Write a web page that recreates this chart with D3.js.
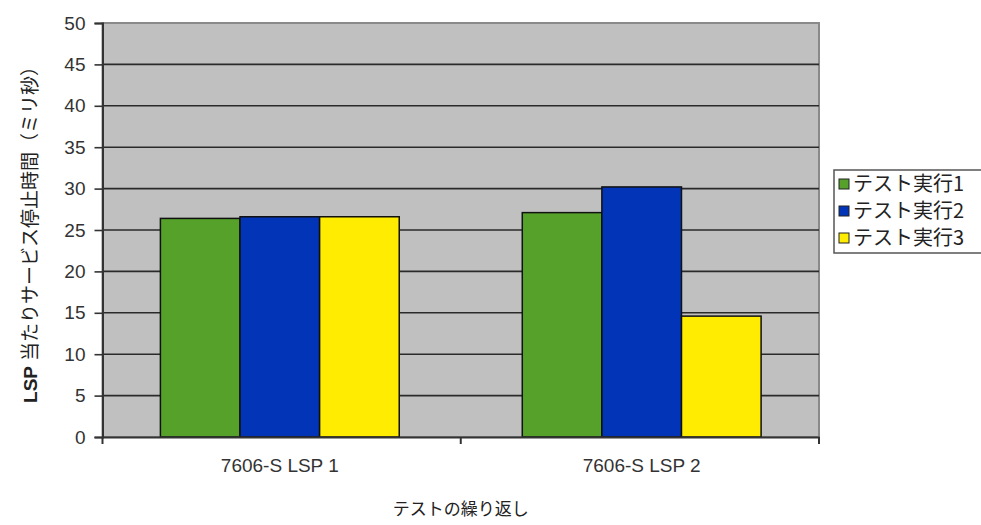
<!DOCTYPE html>
<html><head><meta charset="utf-8">
<script src="https://cdn.jsdelivr.net/npm/d3@7"></script>
<style>body{margin:0;background:#fff;}svg{display:block;}</style>
</head><body>
<svg id="c" width="981" height="525"></svg>
<script>
const categories = ["7606-S LSP 1", "7606-S LSP 2"];
const seriesNames = ["テスト実行1", "テスト実行2", "テスト実行3"];
const run1 = [26.4, 27.1];
const run2 = [26.6, 30.2];
const run3 = [26.6, 14.6];
const yTicks = [0, 5, 10, 15, 20, 25, 30, 35, 40, 45, 50];
const colors = ["#55a12a", "#0234b8", "#ffec00"];
const series = [run1, run2, run3];

const svg = d3.select("#c");
const m = {l: 102.5, r: 819, t: 23, b: 437};
const x0 = d3.scaleBand().domain(categories).range([m.l, m.r]).paddingInner(0.34).paddingOuter(0.16);
const x1 = d3.scaleBand().domain(seriesNames).range([0, x0.bandwidth()]);
const y = d3.scaleLinear().domain([0, 50]).range([m.b, m.t]);
const font = "Arial, 'Liberation Sans', sans-serif";
const jfont = "'Noto Sans CJK JP', sans-serif";

svg.append("rect").attr("x", m.l).attr("y", m.t).attr("width", m.r - m.l).attr("height", m.b - m.t)
  .attr("fill", "#c0c0c0").attr("stroke", "#8a8a8a").attr("stroke-width", 2);

svg.append("g").selectAll("line").data(yTicks.filter(d => d > 0 && d < 50)).join("line")
  .attr("x1", m.l).attr("x2", m.r).attr("y1", d => y(d)).attr("y2", d => y(d))
  .attr("stroke", "#2a2a2a").attr("stroke-width", 1.6);

const g = svg.append("g");
categories.forEach((c, ci) => {
  g.append("g").selectAll("rect").data(series.map((s, si) => ({k: seriesNames[si], v: s[ci], si}))).join("rect")
    .attr("x", d => x0(c) + x1(d.k)).attr("y", d => y(d.v))
    .attr("width", x1.bandwidth()).attr("height", d => y(0) - y(d.v))
    .attr("fill", d => colors[d.si]).attr("stroke", "#111").attr("stroke-width", 1.5);
});

const ya = svg.append("g").attr("transform", `translate(${m.l},0)`)
  .call(d3.axisLeft(y).tickValues(yTicks).tickSize(8).tickPadding(9));
ya.select(".domain").attr("stroke", "#333").attr("stroke-width", 2);
ya.selectAll(".tick line").attr("stroke", "#333").attr("stroke-width", 1.6);
ya.selectAll("text").attr("font-family", font).attr("font-size", 19).attr("fill", "#333");

const xa = svg.append("g").attr("transform", `translate(0,${m.b})`)
  .call(d3.axisBottom(x0).tickSize(0).tickPadding(22));
xa.select(".domain").attr("stroke", "#333").attr("stroke-width", 2);
xa.selectAll("text").attr("font-family", font).attr("font-size", 19).attr("fill", "#333");
const bx = [m.l, (x0(categories[0]) + x0.bandwidth() + x0(categories[1])) / 2, m.r];
svg.append("g").selectAll("line").data(bx).join("line")
  .attr("x1", d => d).attr("x2", d => d).attr("y1", m.b).attr("y2", m.b + 7)
  .attr("stroke", "#333").attr("stroke-width", 2);

svg.append("text").attr("x", (m.l + m.r) / 2).attr("y", 515).attr("text-anchor", "middle")
  .attr("font-family", jfont).attr("font-size", 17).attr("fill", "#222")
  .text("テストの繰り返し");
const yt = svg.append("text").attr("transform", `translate(37,${(m.t + m.b) / 2}) rotate(-90)`)
  .attr("text-anchor", "middle").attr("font-family", jfont)
  .attr("font-size", 19).attr("fill", "#222");
yt.append("tspan").attr("font-weight", "bold").attr("font-family", font).text("LSP ");
yt.append("tspan").text("当たりサービス停止時間（ミリ秒）");

const lg = svg.append("g");
lg.append("rect").attr("x", 834).attr("y", 170).attr("width", 160).attr("height", 83)
  .attr("fill", "#fff").attr("stroke", "#555").attr("stroke-width", 1.5);
seriesNames.forEach((n, i) => {
  const yy = 184 + i * 27;
  lg.append("rect").attr("x", 839).attr("y", yy - 5).attr("width", 10).attr("height", 10)
    .attr("fill", colors[i]).attr("stroke", "#222").attr("stroke-width", 1);
  lg.append("text").attr("x", 853).attr("y", yy + 7).attr("font-family", jfont)
    .attr("font-size", 20).attr("fill", "#222").text(n);
});
</script>
</body></html>
